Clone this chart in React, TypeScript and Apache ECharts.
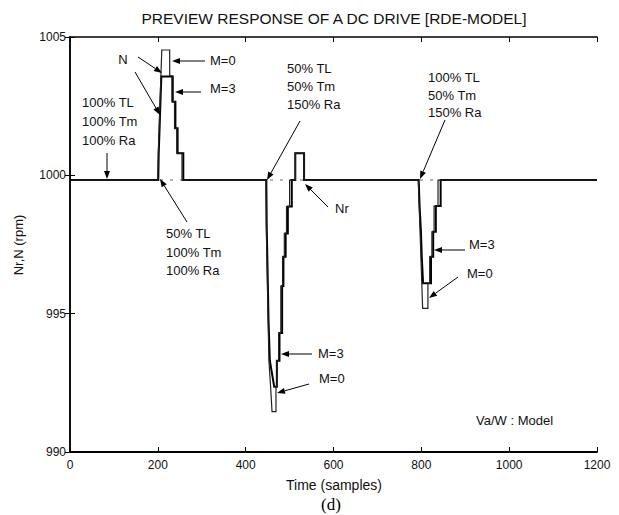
import React, { useEffect, useRef } from "react";
import * as echarts from "echarts";

// ---- data ----
const xTicks = [0, 200, 400, 600, 800, 1000, 1200];
const yTicks = [990, 995, 1000, 1005];

const baseline = 999.83;

// N, M=0 (no preview)
const m0Time = [
  0, 200, 201, 203, 205, 207, 209, 227, 227, 232, 232, 238, 238, 243, 243, 255, 255,
  446, 447, 449, 451, 453, 457, 460, 469, 469, 471, 471, 475, 475, 480, 480, 484, 484, 488, 488, 493, 493, 500, 500,
  513, 513, 533, 533,
  793, 795, 797, 799, 801, 803, 815, 815, 819, 819, 824, 824, 829, 829, 838, 838,
  1200,
];
const m0Speed = [
  999.83, 999.83, 1000.8, 1001.7, 1002.66, 1003.6, 1004.53, 1004.53, 1003.6, 1003.6, 1002.66, 1002.66, 1001.7, 1001.7, 1000.8, 1000.8, 999.83,
  999.83, 998.1, 996.5, 994.8, 993.3, 992.3, 991.46, 991.46, 992.36, 992.36, 993.3, 993.3, 994.3, 994.3, 996.0, 996.0, 997.06, 997.06, 997.9, 997.9, 998.87, 998.87, 999.83,
  999.83, 1000.8, 1000.8, 999.83,
  999.83, 998.9, 998.0, 997.06, 996.1, 995.19, 995.19, 996.1, 996.1, 997.06, 997.06, 997.96, 997.96, 998.89, 998.89, 999.83,
  999.83,
];

// N, M=3 (preview)
const m3Time = [
  0, 201, 202, 204, 206, 208, 234, 234, 240, 240, 245, 245, 258, 258,
  447, 448, 450, 452, 455, 465, 471, 471, 477, 477, 483, 483, 486, 486, 491, 491, 496, 496, 505, 505,
  513, 513, 533, 533,
  794, 796, 799, 801, 804, 822, 822, 827, 827, 833, 833, 844, 844,
  1200,
];
const m3Speed = [
  999.83, 999.83, 1000.8, 1001.7, 1002.66, 1003.57, 1003.57, 1002.66, 1002.66, 1001.7, 1001.7, 1000.8, 1000.8, 999.83,
  999.83, 998.1, 996.5, 994.8, 993.3, 992.36, 992.36, 993.3, 993.3, 994.3, 994.3, 996.0, 996.0, 997.06, 997.06, 997.9, 997.9, 998.87, 998.87, 999.83,
  999.83, 1000.8, 1000.8, 999.83,
  999.83, 998.9, 998.0, 997.06, 996.1, 996.1, 997.06, 997.06, 997.96, 997.96, 998.89, 998.89, 999.83,
  999.83,
];

// Nr reference
const nrTime = [0, 1200];
const nrSpeed = [baseline, baseline];

const titleText = "PREVIEW RESPONSE OF A DC DRIVE [RDE-MODEL]";
const xName = "Time (samples)";
const yName = "Nr,N (rpm)";
const caption = "(d)";
const footnote = "Va/W : Model";

// ---- layout (pixels) ----
const GRID = { left: 70, right: 22, top: 37, bottom: 63 };
const FONT = "'Liberation Sans', Arial, sans-serif";

const labels: { t: string; x: number; y: number; align?: string }[] = [
  { t: "N", x: 123, y: 59, align: "center" },
  { t: "M=0", x: 210, y: 60 },
  { t: "M=3", x: 210, y: 88 },
  { t: "100% TL", x: 82, y: 102 },
  { t: "100% Tm", x: 82, y: 121 },
  { t: "100% Ra", x: 82, y: 140 },
  { t: "50% TL", x: 166, y: 233 },
  { t: "100% Tm", x: 166, y: 252 },
  { t: "100% Ra", x: 166, y: 270 },
  { t: "50% TL", x: 287, y: 68 },
  { t: "50% Tm", x: 287, y: 86 },
  { t: "150% Ra", x: 287, y: 104 },
  { t: "Nr", x: 335, y: 208 },
  { t: "M=3", x: 318, y: 353 },
  { t: "M=0", x: 319, y: 378 },
  { t: "100% TL", x: 428, y: 77 },
  { t: "50% Tm", x: 428, y: 95 },
  { t: "150% Ra", x: 428, y: 112 },
  { t: "M=3", x: 469, y: 244 },
  { t: "M=0", x: 467, y: 273 },
];

const arrows: [number, number, number, number][] = [
  [138, 57, 162, 73],
  [135, 72, 160, 115],
  [205, 61, 172, 61],
  [201, 92, 175, 92],
  [107, 153, 107, 179],
  [187, 222, 160, 179],
  [300, 121, 267, 180],
  [328, 207, 305, 184],
  [312, 354, 281, 354],
  [309, 384, 277, 393],
  [445, 120, 420, 179],
  [465, 250, 434, 250],
  [458, 277, 429, 298],
];

function arrowShapes(x1: number, y1: number, x2: number, y2: number) {
  const dx = x2 - x1;
  const dy = y2 - y1;
  const L = Math.hypot(dx, dy);
  const ux = dx / L;
  const uy = dy / L;
  const hl = 8;
  const hw = 3;
  const bx = x2 - ux * hl;
  const by = y2 - uy * hl;
  return [
    { type: "line", shape: { x1, y1, x2: bx, y2: by }, style: { stroke: "#000", lineWidth: 1 }, z: 100 },
    {
      type: "polygon",
      shape: { points: [[x2, y2], [bx - uy * hw, by + ux * hw], [bx + uy * hw, by - ux * hw]] },
      style: { fill: "#000" },
      z: 100,
    },
  ];
}

const zip = (a: number[], b: number[]) => a.map((v, i) => [v, b[i]]);

export default function App() {
  const ref = useRef<HTMLDivElement>(null);
  useEffect(() => {
    if (!ref.current) return;
    const chart = echarts.init(ref.current, undefined, { renderer: "svg" });
    const axisLine = { show: true, lineStyle: { color: "#000", width: 1.5 } };
    const tick = { show: true, inside: true, length: 5, lineStyle: { color: "#000", width: 1 } };
    const plain = (v: number) => String(v);
    const graphic: any[] = [
      {
        type: "text",
        x: 334,
        y: 18,
        style: { text: titleText, font: `15.5px ${FONT}`, fill: "#111", align: "center", verticalAlign: "middle" },
      },
      {
        type: "text",
        x: 334,
        y: 485,
        style: { text: xName, font: `14px ${FONT}`, fill: "#111", align: "center", verticalAlign: "middle" },
      },
      {
        type: "text",
        x: 18,
        y: 245,
        rotation: Math.PI / 2,
        style: { text: yName, font: `13px ${FONT}`, fill: "#111", align: "center", verticalAlign: "middle" },
      },
      {
        type: "text",
        x: 331,
        y: 504,
        style: { text: caption, font: `17px 'Liberation Serif', 'Times New Roman', serif`, fill: "#000", align: "center", verticalAlign: "middle" },
      },
      {
        type: "text",
        x: 476,
        y: 420,
        style: { text: footnote, font: `13px ${FONT}`, fill: "#111", align: "left", verticalAlign: "middle" },
      },
    ];
    labels.forEach((l) => {
      graphic.push({
        type: "text",
        x: l.x,
        y: l.y,
        z: 100,
        style: { text: l.t, font: `13px ${FONT}`, fill: "#111", align: l.align || "left", verticalAlign: "middle" },
      });
    });
    arrows.forEach((a) => graphic.push(...arrowShapes(a[0], a[1], a[2], a[3])));

    chart.setOption({
      animation: false,
      backgroundColor: "#fff",
      grid: { ...GRID, containLabel: false },
      xAxis: [
        {
          type: "value",
          min: xTicks[0],
          max: xTicks[xTicks.length - 1],
          interval: xTicks[1] - xTicks[0],
          axisLine: { show: true, lineStyle: { color: "#000", width: 2 } },
          axisTick: tick,
          axisLabel: { color: "#111", fontSize: 12, fontFamily: FONT, margin: 7, formatter: plain },
          splitLine: { show: false },
        },
        {
          type: "value",
          position: "top",
          min: xTicks[0],
          max: xTicks[xTicks.length - 1],
          interval: xTicks[1] - xTicks[0],
          axisLine,
          axisTick: tick,
          axisLabel: { show: false },
          splitLine: { show: false },
        },
      ],
      yAxis: [
        {
          type: "value",
          min: yTicks[0],
          max: yTicks[yTicks.length - 1],
          interval: yTicks[1] - yTicks[0],
          axisLine,
          axisTick: tick,
          axisLabel: { color: "#111", fontSize: 12, fontFamily: FONT, margin: 4, formatter: plain },
          splitLine: { show: false },
        },
        {
          type: "value",
          position: "right",
          min: yTicks[0],
          max: yTicks[yTicks.length - 1],
          interval: yTicks[1] - yTicks[0],
          axisLine,
          axisTick: tick,
          axisLabel: { show: false },
          splitLine: { show: false },
        },
      ],
      series: [
        {
          name: "Nr",
          type: "line",
          data: zip(nrTime, nrSpeed),
          symbol: "none",
          lineStyle: { color: "#9a9a9a", width: 1.5, type: [3, 7] },
          z: 1,
        },
        {
          name: "M=3",
          type: "line",
          data: zip(m3Time, m3Speed),
          symbol: "none",
          lineStyle: { color: "#000", width: 2, join: "miter" },
          z: 2,
        },
        {
          name: "M=0",
          type: "line",
          data: zip(m0Time, m0Speed),
          symbol: "none",
          lineStyle: { color: "#222", width: 1.2, join: "miter" },
          z: 3,
        },
      ],
      graphic,
    });
    return () => chart.dispose();
  }, []);
  return (
    <div
      ref={ref}
      style={{ position: "absolute", left: 0, top: 0, width: 619, height: 515, background: "#fff" }}
    />
  );
}
